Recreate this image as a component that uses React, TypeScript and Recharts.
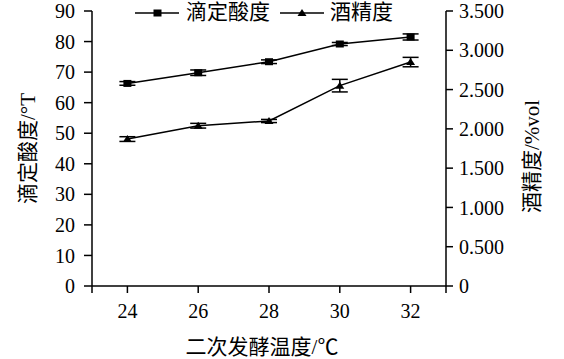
import React from 'react';
import {
    ComposedChart, Line, XAxis, YAxis, Legend, ErrorBar, Label
} from 'recharts';

// 二次发酵温度 (°C)
const temps = [24, 26, 28, 30, 32];
// 滴定酸度 (°T)
const acidity = [66.3, 69.8, 73.4, 79.2, 81.5];
const acidityErr = [0.6, 0.9, 0.6, 0.5, 1.0];
// 酒精度 (%vol)
const alcohol = [1.87, 2.04, 2.10, 2.55, 2.85];
const alcoholErr = [0.03, 0.03, 0.02, 0.08, 0.06];

const xTicks = [23, 24, 26, 28, 30, 32, 33];
const leftTicks = [0, 10, 20, 30, 40, 50, 60, 70, 80, 90];
const rightTicks = [0, 0.5, 1, 1.5, 2, 2.5, 3, 3.5];

const data = temps.map((t, i) => ({
    temp: t,
    acid: acidity[i],
    acidErr: acidityErr[i],
    alc: alcohol[i],
    alcErr: alcoholErr[i],
}));

const SERIF = '"Liberation Serif", serif';
const FONT = '"Liberation Serif", "Noto Sans CJK SC", serif';
const tickStyle = { fill: '#000', fontSize: 20, fontFamily: SERIF };
const labelStyle = { fill: '#000', fontSize: 21, fontFamily: FONT };

const SquareDot = (props: any) => {
    const { cx, cy } = props;
    return <rect x={cx - 4} y={cy - 3.5} width={8} height={7} fill="#000" />;
};

const TriangleDot = (props: any) => {
    const { cx, cy } = props;
    return <polygon points={`${cx},${cy - 4} ${cx - 4.5},${cy + 3} ${cx + 4.5},${cy + 3}`} fill="#000" />;
};

const LegendIcon = ({ kind }: { kind: 'square' | 'triangle' }) => (
    <svg width={44} height={14} style={{ display: 'block' }}>
        <line x1={0} y1={7} x2={44} y2={7} stroke="#000" strokeWidth={1.5} />
        {kind === 'square'
            ? <rect x={18.5} y={3.5} width={8} height={7} fill="#000" />
            : <polygon points="22,3 17.5,10 26.5,10" fill="#000" />}
    </svg>
);

const ChartLegend = () => (
    <div style={{ display: 'flex', alignItems: 'center', fontFamily: FONT, fontSize: 21, lineHeight: 1, color: '#000' }}>
        <LegendIcon kind="square" />
        <span style={{ marginLeft: 7, marginRight: 10 }}>滴定酸度</span>
        <LegendIcon kind="triangle" />
        <span style={{ marginLeft: 6 }}>酒精度</span>
    </div>
);

export default function App() {
    return (
        <div style={{ position: 'absolute', left: 0, top: 0, background: '#fff', fontFamily: FONT }}>
            <ComposedChart width={564} height={359} data={data} margin={{ top: 11, right: 0, left: 0, bottom: 0 }}
                style={{ fontFamily: FONT }}>
                <XAxis
                    dataKey="temp"
                    type="number"
                    domain={[23, 33]}
                    ticks={xTicks}
                    interval={0}
                    tickFormatter={(v) => (v === 23 || v === 33 ? '' : String(v))}
                    height={73}
                    stroke="#000"
                    strokeWidth={1.5}
                    tickSize={7}
                    tickMargin={11}
                    tick={tickStyle}
                >
                    <Label value="二次发酵温度/℃" position="insideBottom" offset={5} dx={-7} style={labelStyle} />
                </XAxis>
                <YAxis
                    yAxisId="left"
                    domain={[0, 90]}
                    ticks={leftTicks}
                    interval={0}
                    width={92}
                    stroke="#000"
                    strokeWidth={1.5}
                    tickSize={8}
                    tickMargin={9}
                    tick={tickStyle}
                >
                    <Label value="滴定酸度/°T" angle={-90} position="center" dx={-18} style={labelStyle} />
                </YAxis>
                <YAxis
                    yAxisId="right"
                    orientation="right"
                    domain={[0, 3.5]}
                    ticks={rightTicks}
                    interval={0}
                    width={118}
                    stroke="#000"
                    strokeWidth={1.5}
                    tickSize={7}
                    tickMargin={6}
                    tick={tickStyle}
                    tickFormatter={(v) => (v === 0 ? '0' : Number(v).toFixed(3))}
                >
                    <Label value="酒精度/%vol" angle={-90} position="center" dx={27} dy={8} style={labelStyle} />
                </YAxis>
                <Legend
                    layout="horizontal"
                    verticalAlign="middle"
                    content={<ChartLegend />}
                    wrapperStyle={{ top: 2, left: 135, width: 'auto' }}
                />
                <Line
                    yAxisId="left"
                    type="linear"
                    dataKey="acid"
                    stroke="#000"
                    strokeWidth={1.5}
                    dot={<SquareDot />}
                    activeDot={false}
                    isAnimationActive={false}
                >
                    <ErrorBar dataKey="acidErr" direction="y" width={8} stroke="#000" strokeWidth={1.5} isAnimationActive={false} />
                </Line>
                <Line
                    yAxisId="right"
                    type="linear"
                    dataKey="alc"
                    stroke="#000"
                    strokeWidth={1.5}
                    dot={<TriangleDot />}
                    activeDot={false}
                    isAnimationActive={false}
                >
                    <ErrorBar dataKey="alcErr" direction="y" width={8} stroke="#000" strokeWidth={1.5} isAnimationActive={false} />
                </Line>
            </ComposedChart>
        </div>
    );
}
